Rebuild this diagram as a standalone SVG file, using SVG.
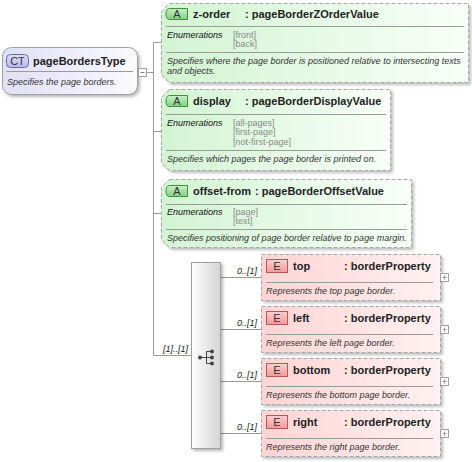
<svg xmlns="http://www.w3.org/2000/svg" width="472" height="462" viewBox="0 0 472 462">
<defs>
<linearGradient id="gAttr" x1="0" y1="0" x2="1" y2="0"><stop offset="0" stop-color="#d2f4d2"/><stop offset="1" stop-color="#f8fff8"/></linearGradient>
<linearGradient id="gElem" x1="0" y1="0" x2="1" y2="0"><stop offset="0" stop-color="#ffd4d4"/><stop offset="1" stop-color="#fff1f1"/></linearGradient>
<linearGradient id="gCT" x1="0" y1="0" x2="1" y2="0"><stop offset="0" stop-color="#e0e0f6"/><stop offset="1" stop-color="#fafaff"/></linearGradient>
<linearGradient id="gSeq" x1="0" y1="0" x2="1" y2="0"><stop offset="0" stop-color="#ffffff"/><stop offset="1" stop-color="#d4d4d4"/></linearGradient>
<linearGradient id="gA" x1="0" y1="0" x2="0" y2="1"><stop offset="0" stop-color="#c8f0c8"/><stop offset="1" stop-color="#7fd07f"/></linearGradient>
<linearGradient id="gE" x1="0" y1="0" x2="0" y2="1"><stop offset="0" stop-color="#ffd0d0"/><stop offset="1" stop-color="#f09a9a"/></linearGradient>
<linearGradient id="gCTb" x1="0" y1="0" x2="0" y2="1"><stop offset="0" stop-color="#e0e0fa"/><stop offset="1" stop-color="#b8b8ec"/></linearGradient>
<filter id="sh" x="-10%" y="-10%" width="130%" height="130%"><feDropShadow dx="2" dy="2" stdDeviation="1.5" flood-color="#000" flood-opacity="0.28"/></filter>
</defs>
<style>
.attr{fill:url(#gAttr);stroke:#a8a8a8;stroke-dasharray:4,2;filter:url(#sh)}
.elem{fill:url(#gElem);stroke:#a8a8a8;stroke-dasharray:4,2;filter:url(#sh)}
.sep{stroke:#9a9a9a;stroke-width:1}
.conn{stroke:#9a9a9a;stroke-width:1;fill:none}
.hd{font-family:"Liberation Sans",Arial,sans-serif;font-size:11px;font-weight:bold;fill:#222}
.ds{font-family:"Liberation Sans",Arial,sans-serif;font-size:9px;font-style:italic;fill:#333}
.en{font-family:"Liberation Sans",Arial,sans-serif;font-size:9px;font-style:italic;fill:#111}
.ev{font-family:"Liberation Sans",Arial,sans-serif;font-size:9px;fill:#8a8a8a}
.card{font-family:"Liberation Sans",Arial,sans-serif;font-size:9px;font-style:italic;fill:#222}
.bt{font-family:"Liberation Sans",Arial,sans-serif;font-size:11px;fill:#333;text-anchor:middle}
.abadge{fill:url(#gA);stroke:#3f8f3f}
.ebadge{fill:url(#gE);stroke:#b45a5a}
.pm{fill:#fff;stroke:#a0a0a0}
</style>

<g id="connectors">
<path class="conn" d="M146.5,72.5 H153.5 M153.5,42.5 V355.5 M153.5,42.5 H161.5 M153.5,131.5 H161.5 M153.5,213.5 H161.5 M153.5,355.5 H191.5"/>
<path class="conn" d="M220.5,277.5 H261.5 M220.5,329.5 H261.5 M220.5,381.5 H261.5 M220.5,433.5 H261.5"/>
<text class="card" x="188" y="352" text-anchor="end">[1]..[1]</text>
<text class="card" x="257" y="274" text-anchor="end">0..[1]</text>
<text class="card" x="257" y="326" text-anchor="end">0..[1]</text>
<text class="card" x="257" y="378" text-anchor="end">0..[1]</text>
<text class="card" x="257" y="430" text-anchor="end">0..[1]</text>
</g>

<g id="pageBordersType">
<rect x="2.5" y="47.5" width="135" height="47" rx="9" fill="url(#gCT)" stroke="#a0a0a0" filter="url(#sh)"/>
<rect x="6.5" y="54.5" width="22" height="13" rx="4" fill="url(#gCTb)" stroke="#6a6aa8"/>
<text class="bt" x="17.5" y="65">CT</text>
<text class="hd" x="33" y="65">pageBordersType</text>
<line class="sep" x1="6" y1="71.5" x2="133" y2="71.5"/>
<text class="ds" x="7" y="85">Specifies the page borders.</text>
<rect class="pm" x="138.5" y="68.5" width="8" height="8"/>
<line x1="140.5" y1="72.5" x2="144.5" y2="72.5" stroke="#808080"/>
</g>

<g id="z-order">
<path class="attr" d="M169.5,3.5 H468.5 V82.5 H169.5 L161.5,74.5 V11.5 Z"/>
<path class="abadge" d="M169.5,8.5 H187.5 V19.5 H169.5 Q166,19.5 166,14 Q166,8.5 169.5,8.5 Z"/>
<text class="bt" x="177" y="18">A</text>
<text class="hd" x="193" y="18">z-order</text>
<text class="hd" x="245" y="18">: pageBorderZOrderValue</text>
<line class="sep" x1="166" y1="26.5" x2="464" y2="26.5"/>
<text class="en" x="167" y="38">Enumerations</text>
<text class="ev" x="233" y="38">[front]</text>
<text class="ev" x="233" y="47">[back]</text>
<line class="sep" x1="166" y1="52.5" x2="464" y2="52.5"/>
<text class="ds" x="167" y="64">Specifies where the page border is positioned relative to intersecting texts</text>
<text class="ds" x="167" y="74">and objects.</text>
</g>

<g id="display">
<path class="attr" d="M169.5,89.5 H390.5 V170.5 H169.5 L161.5,162.5 V97.5 Z"/>
<path class="abadge" d="M169.5,95.5 H187.5 V106.5 H169.5 Q166,106.5 166,101 Q166,95.5 169.5,95.5 Z"/>
<text class="bt" x="177" y="105">A</text>
<text class="hd" x="193" y="105">display</text>
<text class="hd" x="245" y="105">: pageBorderDisplayValue</text>
<line class="sep" x1="166" y1="114.5" x2="386" y2="114.5"/>
<text class="en" x="167" y="126">Enumerations</text>
<text class="ev" x="233" y="126">[all-pages]</text>
<text class="ev" x="233" y="135">[first-page]</text>
<text class="ev" x="233" y="145">[not-first-page]</text>
<line class="sep" x1="166" y1="150.5" x2="386" y2="150.5"/>
<text class="ds" x="167" y="162">Specifies which pages the page border is printed on.</text>
</g>

<g id="offset-from">
<path class="attr" d="M169.5,179.5 H411.5 V247.5 H169.5 L161.5,239.5 V187.5 Z"/>
<path class="abadge" d="M169.5,185.5 H187.5 V196.5 H169.5 Q166,196.5 166,191 Q166,185.5 169.5,185.5 Z"/>
<text class="bt" x="177" y="195">A</text>
<text class="hd" x="193" y="195">offset-from</text>
<text class="hd" x="255" y="195">: pageBorderOffsetValue</text>
<line class="sep" x1="166" y1="204.5" x2="407" y2="204.5"/>
<text class="en" x="167" y="215">Enumerations</text>
<text class="ev" x="233" y="215">[page]</text>
<text class="ev" x="233" y="224">[text]</text>
<line class="sep" x1="166" y1="229.5" x2="407" y2="229.5"/>
<text class="ds" x="167" y="241">Specifies positioning of page border relative to page margin.</text>
</g>

<g id="sequence">
<rect x="191.5" y="262.5" width="29" height="186" fill="url(#gSeq)" stroke="#a0a0a0" filter="url(#sh)"/>
<path d="M200,357.5 H206.5 M206.5,351.5 V363.5 M206.5,351.5 H212 M206.5,357.5 H212 M206.5,363.5 H212" stroke="#444" fill="none"/>
<circle cx="200" cy="357.5" r="2" fill="#444"/>
<circle cx="212" cy="351.5" r="2" fill="#444"/>
<circle cx="212" cy="357.5" r="2" fill="#444"/>
<circle cx="212" cy="363.5" r="2" fill="#444"/>
</g>

<g id="top">
<rect class="elem" x="261.5" y="254.5" width="179" height="46"/>
<rect class="ebadge" x="266.5" y="259.5" width="21" height="13"/>
<text class="bt" x="277" y="270">E</text>
<text class="hd" x="293" y="270">top</text>
<text class="hd" x="344" y="270">: borderProperty</text>
<line class="sep" x1="266" y1="282.5" x2="433" y2="282.5"/>
<text class="ds" x="266" y="294">Represents the top page border.</text>
<rect class="pm" x="440.5" y="273.5" width="8" height="8"/>
<path d="M442.5,277.5 H446.5 M444.5,275.5 V279.5" stroke="#a0a0a0"/>
</g>

<g id="left">
<rect class="elem" x="261.5" y="306.5" width="179" height="46"/>
<rect class="ebadge" x="266.5" y="311.5" width="21" height="13"/>
<text class="bt" x="277" y="322">E</text>
<text class="hd" x="293" y="322">left</text>
<text class="hd" x="344" y="322">: borderProperty</text>
<line class="sep" x1="266" y1="334.5" x2="433" y2="334.5"/>
<text class="ds" x="266" y="346">Represents the left page border.</text>
<rect class="pm" x="440.5" y="325.5" width="8" height="8"/>
<path d="M442.5,329.5 H446.5 M444.5,327.5 V331.5" stroke="#a0a0a0"/>
</g>

<g id="bottom">
<rect class="elem" x="261.5" y="358.5" width="179" height="46"/>
<rect class="ebadge" x="266.5" y="363.5" width="21" height="13"/>
<text class="bt" x="277" y="374">E</text>
<text class="hd" x="293" y="374">bottom</text>
<text class="hd" x="344" y="374">: borderProperty</text>
<line class="sep" x1="266" y1="386.5" x2="433" y2="386.5"/>
<text class="ds" x="266" y="398">Represents the bottom page border.</text>
<rect class="pm" x="440.5" y="377.5" width="8" height="8"/>
<path d="M442.5,381.5 H446.5 M444.5,379.5 V383.5" stroke="#a0a0a0"/>
</g>

<g id="right">
<rect class="elem" x="261.5" y="410.5" width="179" height="46"/>
<rect class="ebadge" x="266.5" y="415.5" width="21" height="13"/>
<text class="bt" x="277" y="426">E</text>
<text class="hd" x="293" y="426">right</text>
<text class="hd" x="344" y="426">: borderProperty</text>
<line class="sep" x1="266" y1="438.5" x2="433" y2="438.5"/>
<text class="ds" x="266" y="450">Represents the right page border.</text>
<rect class="pm" x="440.5" y="429.5" width="8" height="8"/>
<path d="M442.5,433.5 H446.5 M444.5,431.5 V435.5" stroke="#a0a0a0"/>
</g>
</svg>
